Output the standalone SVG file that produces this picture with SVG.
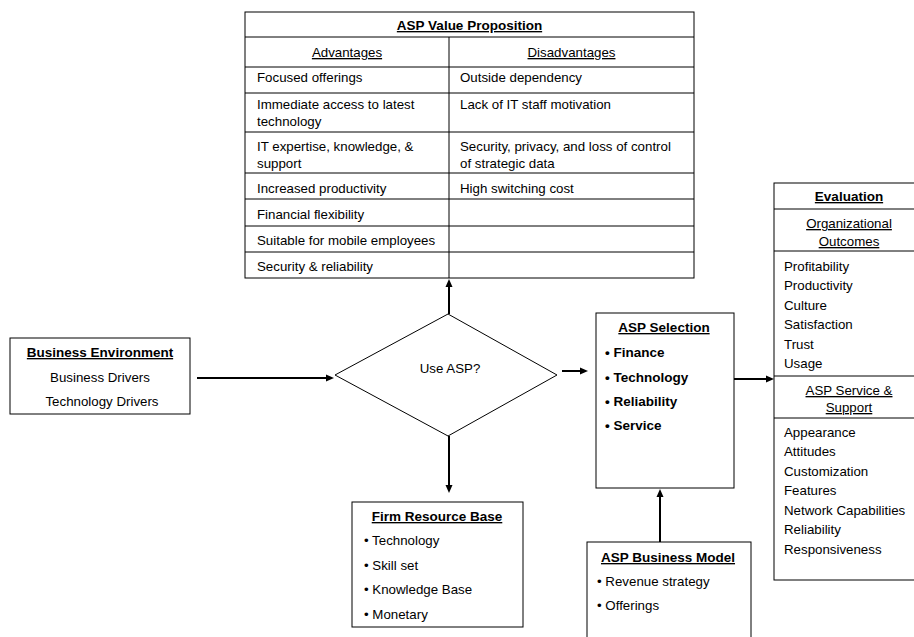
<svg xmlns="http://www.w3.org/2000/svg" width="914" height="637" viewBox="0 0 914 637">
<style>
text{font-family:"Liberation Sans",Arial,sans-serif;font-size:13.3px;fill:#000}
.b{font-weight:bold;font-size:13.5px}
.u{text-decoration:underline}
.c{text-anchor:middle}
.box{fill:#fff;stroke:#000;stroke-width:1}
.ln{stroke:#000;stroke-width:1}
.ar{stroke:#000;stroke-width:2;fill:none;marker-end:url(#ah)}
</style>
<defs>
<marker id="ah" markerUnits="userSpaceOnUse" markerWidth="9" markerHeight="8" refX="3" refY="4" orient="auto">
<path d="M0,0.5 L8,4 L0,7.5 z" fill="#000"/>
</marker>
</defs>
<rect width="914" height="637" fill="#fff"/>

<g id="connectors">
<line class="ar" x1="449" y1="314" x2="449" y2="284"/>
<line class="ar" x1="197" y1="378" x2="329" y2="378"/>
<line class="ar" x1="562" y1="371" x2="583" y2="371"/>
<line class="ar" x1="449" y1="436" x2="449" y2="488"/>
<line class="ar" x1="734" y1="379" x2="769" y2="379"/>
<line class="ar" x1="660" y1="542" x2="660" y2="494"/>
</g>

<g id="value-proposition">
<rect class="box" x="245" y="12" width="449" height="266"/>
<line class="ln" x1="245" y1="37" x2="694" y2="37"/>
<line class="ln" x1="245" y1="67" x2="694" y2="67"/>
<line class="ln" x1="245" y1="93" x2="694" y2="93"/>
<line class="ln" x1="245" y1="132" x2="694" y2="132"/>
<line class="ln" x1="245" y1="173" x2="694" y2="173"/>
<line class="ln" x1="245" y1="199" x2="694" y2="199"/>
<line class="ln" x1="245" y1="226" x2="694" y2="226"/>
<line class="ln" x1="245" y1="252" x2="694" y2="252"/>
<line class="ln" x1="449" y1="37" x2="449" y2="278"/>
<text class="b u c" x="469.5" y="30">ASP Value Proposition</text>
<text class="u c" x="347" y="57">Advantages</text>
<text class="u c" x="571.5" y="57">Disadvantages</text>
<text x="257" y="82">Focused offerings</text>
<text x="257" y="109">Immediate access to latest</text>
<text x="257" y="126">technology</text>
<text x="257" y="151">IT expertise, knowledge, &amp;</text>
<text x="257" y="168">support</text>
<text x="257" y="193">Increased productivity</text>
<text x="257" y="219">Financial flexibility</text>
<text x="257" y="245">Suitable for mobile employees</text>
<text x="257" y="271">Security &amp; reliability</text>
<text x="460" y="82">Outside dependency</text>
<text x="460" y="109">Lack of IT staff motivation</text>
<text x="460" y="151">Security, privacy, and loss of control</text>
<text x="460" y="168">of strategic data</text>
<text x="460" y="193">High switching cost</text>
</g>

<g id="business-environment">
<rect class="box" x="10" y="338" width="180" height="76"/>
<text class="b u c" x="100" y="357">Business Environment</text>
<text class="c" x="100" y="382">Business Drivers</text>
<text class="c" x="102" y="406">Technology Drivers</text>
</g>

<g id="use-asp">
<polygon class="box" points="335,375 448,314 557,375 448,436"/>
<text class="c" x="450" y="373">Use ASP?</text>
</g>

<g id="asp-selection">
<rect class="box" x="596" y="313" width="138" height="175"/>
<text class="b u c" x="664" y="332">ASP Selection</text>
<text class="b" x="605" y="357">• Finance</text>
<text class="b" x="605" y="382">• Technology</text>
<text class="b" x="605" y="406">• Reliability</text>
<text class="b" x="605" y="430">• Service</text>
</g>

<g id="firm-resource-base">
<rect class="box" x="352" y="502" width="171" height="125"/>
<text class="b u c" x="437" y="521">Firm Resource Base</text>
<text x="364" y="545">• Technology</text>
<text x="364" y="570">• Skill set</text>
<text x="364" y="594">• Knowledge Base</text>
<text x="364" y="619">• Monetary</text>
</g>

<g id="asp-business-model">
<rect class="box" x="587" y="542" width="164" height="120"/>
<text class="b u c" x="668" y="562">ASP Business Model</text>
<text x="597" y="586">• Revenue strategy</text>
<text x="597" y="610">• Offerings</text>
</g>

<g id="evaluation">
<rect class="box" x="774" y="183" width="160" height="397"/>
<line class="ln" x1="774" y1="209" x2="914" y2="209"/>
<line class="ln" x1="774" y1="251" x2="914" y2="251"/>
<line class="ln" x1="774" y1="376" x2="914" y2="376"/>
<line class="ln" x1="774" y1="418" x2="914" y2="418"/>
<text class="b u c" x="849" y="201">Evaluation</text>
<text class="u c" x="849" y="228">Organizational</text>
<text class="u c" x="849" y="246">Outcomes</text>
<text x="784" y="271">Profitability</text>
<text x="784" y="290">Productivity</text>
<text x="784" y="310">Culture</text>
<text x="784" y="329">Satisfaction</text>
<text x="784" y="349">Trust</text>
<text x="784" y="368">Usage</text>
<text class="u c" x="849" y="395">ASP Service &amp;</text>
<text class="u c" x="849" y="412">Support</text>
<text x="784" y="437">Appearance</text>
<text x="784" y="456">Attitudes</text>
<text x="784" y="476">Customization</text>
<text x="784" y="495">Features</text>
<text x="784" y="515">Network Capabilities</text>
<text x="784" y="534">Reliability</text>
<text x="784" y="554">Responsiveness</text>
</g>
</svg>
